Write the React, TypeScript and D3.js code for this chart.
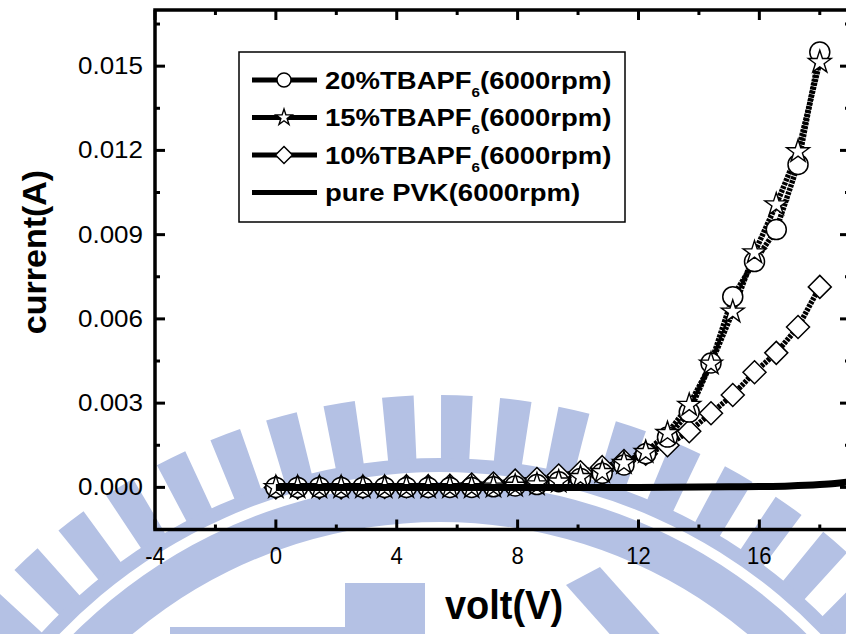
import React from 'react';
import * as d3 from 'd3';

// bias voltage (V) shared by the three doped films
const volts = [0, 0.72, 1.44, 2.16, 2.88, 3.6, 4.32, 5.04, 5.76, 6.48, 7.2, 7.92, 8.64, 9.36,
  10.08, 10.8, 11.52, 12.24, 12.96, 13.68, 14.4, 15.12, 15.84, 16.56, 17.28, 18];

// current (A)
const tbapf20 = [0, 0, 0, 0, 0, 0, 0, 0, 0, 0, 0.00002, 0.00005, 0.0001, 0.0002, 0.00032, 0.0005,
  0.0008, 0.0012, 0.00179, 0.00268, 0.00443, 0.00679, 0.00804, 0.00918, 0.0115, 0.0155];
const tbapf15 = [0, 0, 0, 0, 0, 0, 0, 0, 0, 0, 0.00002, 0.00005, 0.0001, 0.0002, 0.00036, 0.00054,
  0.00086, 0.00125, 0.00193, 0.00293, 0.0044, 0.00625, 0.00836, 0.01007, 0.01196, 0.01514];
const tbapf10 = [0, 0, 0, 0, 0.00002, 0.00002, 0.00004, 0.00004, 0.00006, 0.0001, 0.00014, 0.00024,
  0.0003, 0.00042, 0.00054, 0.00072, 0.00094, 0.0012, 0.0015, 0.002, 0.00264, 0.00329, 0.0041,
  0.00479, 0.00571, 0.00714];

const pvkVolts = [0, 2, 4, 6, 8, 10, 12, 14, 15, 16, 17, 18, 18.5, 19];
const pvkCurrent = [0, 0, 0, 0, 0, 0, 0, 0.00001, 0.00002, 0.00003, 0.00005, 0.0001, 0.00014, 0.0002];

const xTicks = [-4, 0, 4, 8, 12, 16];
const yTicks = [0, 0.003, 0.006, 0.009, 0.012, 0.015];
const yTickLabels = ['0.000', '0.003', '0.006', '0.009', '0.012', '0.015'];

const legendNames = ['20%TBAPF', '15%TBAPF', '10%TBAPF', 'pure PVK(6000rpm)'];

const FONT = '"Liberation Sans", Arial, sans-serif';
const WM = '#b4c1e4';

const left = 155, right = 850, top = 10, bottom = 529.5;

const x = d3.scaleLinear().domain([-4, 19]).range([left, right]);
const y = d3.scaleLinear().domain([-0.0015, 0.017]).range([bottom, top]);

const line = d3.line<[number, number]>()
  .x(d => x(d[0]))
  .y(d => y(d[1]));

const pvkLine = d3.line<[number, number]>()
  .x(d => x(d[0]))
  .y(d => y(d[1]))
  .curve(d3.curveMonotoneX);

function starPath(R: number) {
  const r = R * 0.382;
  const pts: string[] = [];
  for (let k = 0; k < 10; k++) {
    const a = -Math.PI / 2 + k * Math.PI / 5;
    const rad = k % 2 ? r : R;
    pts.push(`${(rad * Math.cos(a)).toFixed(2)},${(rad * Math.sin(a)).toFixed(2)}`);
  }
  return 'M' + pts.join('L') + 'Z';
}

function diamondPath(h: number) {
  return `M0,${-h}L${h},0L0,${h}L${-h},0Z`;
}

function Marker({ kind, size }: { kind: string; size: number }) {
  if (kind === 'circle') return <circle r={size} fill="#fff" stroke="#000" strokeWidth={1.5} />;
  if (kind === 'star') return <path d={starPath(size)} fill="#fff" stroke="#000" strokeWidth={1.4} strokeLinejoin="miter" />;
  return <path d={diamondPath(size)} fill="#fff" stroke="#000" strokeWidth={1.5} />;
}

// light NCTU-style watermark behind the plot
function Watermark() {
  const cx = 440, cy = 1000;
  const arc = d3.arc();
  const rays = d3.range(-60, 61, 5.6);
  const rad = (deg: number) => deg * Math.PI / 180;
  return (
    <g transform={`translate(${cx},${cy})`} fill={WM}>
      {rays.map(a => (
        <path key={a} d={arc({ innerRadius: 538, outerRadius: 605, startAngle: rad(a - 1.5), endAngle: rad(a + 1.5) }) || ''} />
      ))}
      <path d={arc({ innerRadius: 528, outerRadius: 542, startAngle: rad(-64), endAngle: rad(64) }) || ''} />
      <path d={arc({ innerRadius: 478, outerRadius: 518, startAngle: rad(-70), endAngle: rad(70) }) || ''} />
      <rect x={345 - cx} y={583 - cy} width={80} height={60} />
      <rect x={170 - cx} y={627 - cy} width={175} height={20} />
      <path d={`M${566 - cx},${585 - cy}L${600 - cx},${567 - cy}L${665 - cx},${640 - cy}L${615 - cx},${640 - cy}Z`} />
    </g>
  );
}

const series = [
  { name: 'tbapf10', vals: tbapf10, kind: 'diamond', size: 11.5 },
  { name: 'tbapf20', vals: tbapf20, kind: 'circle', size: 10 },
  { name: 'tbapf15', vals: tbapf15, kind: 'star', size: 12 },
];

export default function App() {
  const xMinor = xTicks.map(t => t + 2);
  const yMinor = yTicks.map(t => t + 0.0015);
  const legendY = [80, 117.5, 155, 192.5];
  const legendKinds = ['circle', 'star', 'diamond', 'none'];

  return (
    <svg width={846} height={634} style={{ position: 'absolute', left: 0, top: 0, background: '#fff' }}
      fontFamily={FONT}>
      <rect width={846} height={634} fill="#fff" />
      <Watermark />

      {/* series lines */}
      {series.map(s => (
        <path key={s.name + 'l'} d={line(volts.map((v, i) => [v, s.vals[i]] as [number, number])) || ''}
          fill="none" stroke="#000" strokeWidth={5.5} strokeDasharray="3 1" />
      ))}
      {/* markers */}
      {series.map(s => (
        <g key={s.name + 'm'}>
          {volts.map((v, i) => (
            <g key={i} transform={`translate(${x(v)},${y(s.vals[i])})`}>
              <Marker kind={s.kind} size={s.size} />
            </g>
          ))}
        </g>
      ))}
      <path d={pvkLine(pvkVolts.map((v, i) => [v, pvkCurrent[i]] as [number, number])) || ''}
        fill="none" stroke="#000" strokeWidth={7} />

      {/* frame */}
      <rect x={left} y={top} width={right - left} height={bottom - top} fill="none" stroke="#000" strokeWidth={3.5} />

      {/* x ticks bottom & top */}
      {xTicks.map(t => (
        <g key={'xt' + t}>
          <line x1={x(t)} x2={x(t)} y1={bottom} y2={bottom - 10} stroke="#000" strokeWidth={3} />
          <line x1={x(t)} x2={x(t)} y1={top} y2={top + 10} stroke="#000" strokeWidth={3} />
          <text transform={`translate(${x(t)},564) scale(0.92,1)`} textAnchor="middle" fontSize={24}>{t}</text>
        </g>
      ))}
      {xMinor.map(t => (
        <g key={'xm' + t}>
          <line x1={x(t)} x2={x(t)} y1={bottom} y2={bottom - 5} stroke="#000" strokeWidth={3} />
          <line x1={x(t)} x2={x(t)} y1={top} y2={top + 5} stroke="#000" strokeWidth={3} />
        </g>
      ))}

      {/* y ticks left & right */}
      {yTicks.map((t, i) => (
        <g key={'yt' + t}>
          <line x1={left} x2={left + 10} y1={y(t)} y2={y(t)} stroke="#000" strokeWidth={3} />
          <line x1={right} x2={right - 10} y1={y(t)} y2={y(t)} stroke="#000" strokeWidth={3} />
          <text transform={`translate(143,${y(t) + 8}) scale(1.13,1)`} textAnchor="end" fontSize={23}>{yTickLabels[i]}</text>
        </g>
      ))}
      {yMinor.map(t => (
        <g key={'ym' + t}>
          <line x1={left} x2={left + 5} y1={y(t)} y2={y(t)} stroke="#000" strokeWidth={3} />
          <line x1={right} x2={right - 5} y1={y(t)} y2={y(t)} stroke="#000" strokeWidth={3} />
        </g>
      ))}

      {/* axis titles */}
      <text transform="translate(504,619) scale(0.95,1)" textAnchor="middle" fontSize={40} fontWeight="bold">volt(V)</text>
      <text transform="translate(46,252) rotate(-90)" textAnchor="middle" fontSize={34} fontWeight="bold">current(A)</text>

      {/* legend */}
      <rect x={239} y={52} width={386} height={170} fill="#fff" stroke="#000" strokeWidth={1.5} />
      {legendNames.map((n, i) => (
        <g key={n}>
          <line x1={252} x2={317} y1={legendY[i]} y2={legendY[i]} stroke="#000" strokeWidth={5} />
          {legendKinds[i] !== 'none' && (
            <g transform={`translate(284,${legendY[i]})`}>
              <Marker kind={legendKinds[i]} size={legendKinds[i] === 'circle' ? 7 : 8.5} />
            </g>
          )}
          <text transform={`translate(325,${legendY[i] + 8.5}) scale(1.17,1)`} fontSize={23.5} fontWeight="bold">
            {i < 3 ? (
              <>
                {n}
                <tspan fontSize={13} dy={8}>6</tspan>
                <tspan dy={-8}>(6000rpm)</tspan>
              </>
            ) : n}
          </text>
        </g>
      ))}
    </svg>
  );
}
